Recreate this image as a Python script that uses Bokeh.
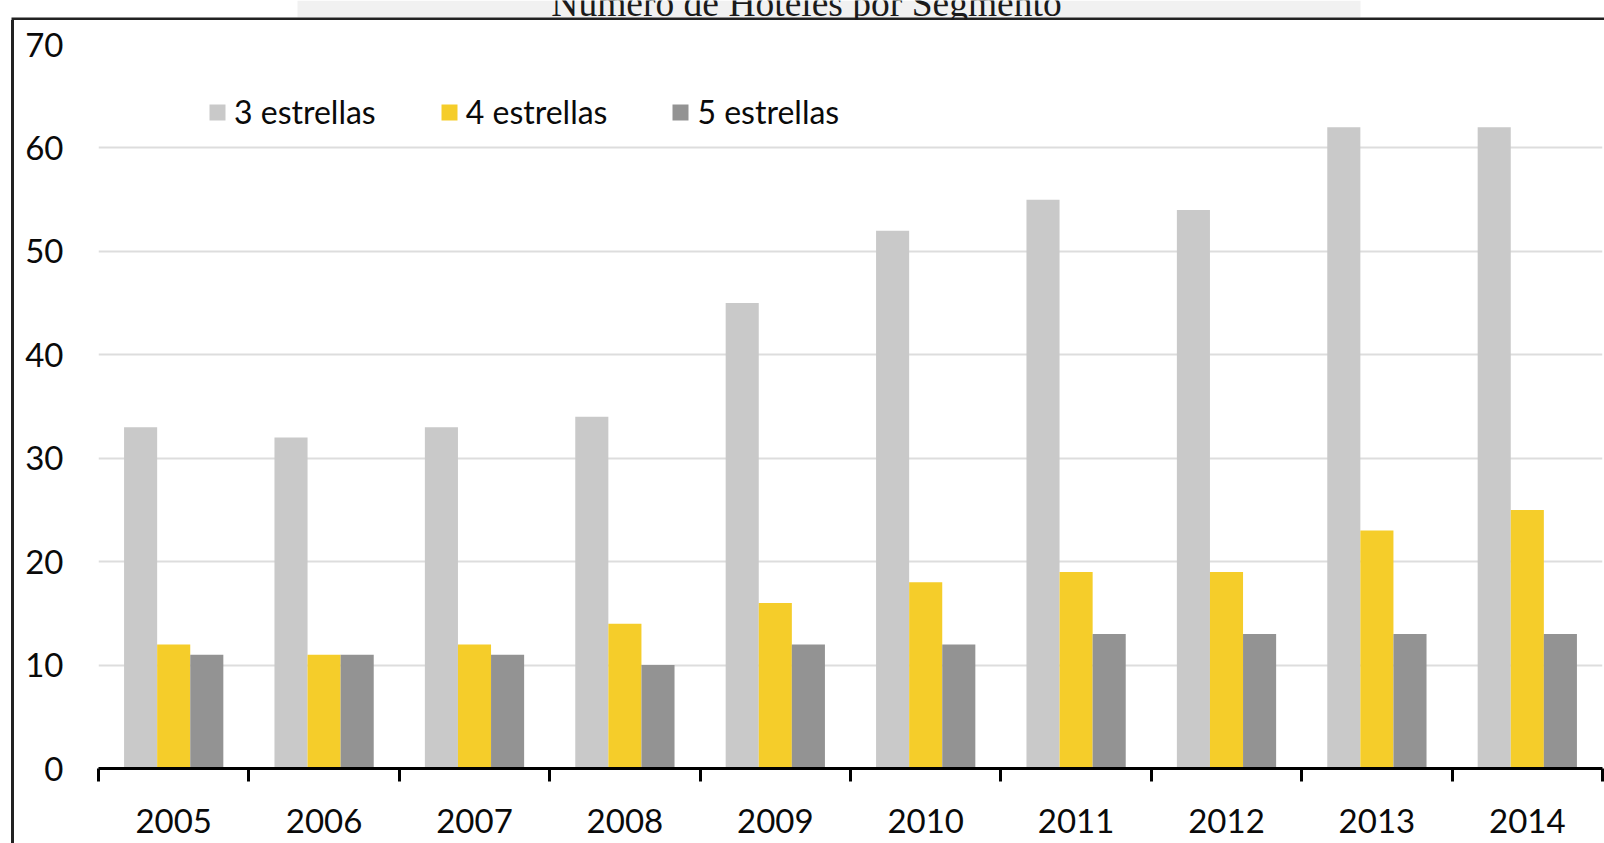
from bokeh.plotting import figure
from bokeh.layouts import column, row
from bokeh.models import (ColumnDataSource, FixedTicker, Range1d, Legend, LegendItem,
                          Label, BoxAnnotation, Div)
from bokeh.transform import dodge
from bokeh.embed import file_html
from bokeh.resources import INLINE

# --- data -------------------------------------------------------------
years = ["2005", "2006", "2007", "2008", "2009", "2010", "2011", "2012", "2013", "2014"]
tres_estrellas = [33, 32, 33, 34, 45, 52, 55, 54, 62, 62]
cuatro_estrellas = [12, 11, 12, 14, 16, 18, 19, 19, 23, 25]
cinco_estrellas = [11, 11, 11, 10, 12, 12, 13, 13, 13, 13]
series_names = ["3 estrellas", "4 estrellas", "5 estrellas"]
y_ticks = [0, 10, 20, 30, 40, 50, 60, 70]
chart_title = "Número de Hoteles por Segmento"

# --- styling ----------------------------------------------------------
colors = ["#c9c9c9", "#f5cd2a", "#939393"]
FONT = "Lato"
BAR_W = 0.22
FRAME_COLOR = "#222222"
PAGE_W, PAGE_H = 1604, 843
TOP_H, LEFT_W = 20, 14

# strip above the chart: title (partly cut at the page top), faint band, top frame line
top = figure(width=PAGE_W, height=TOP_H, x_range=Range1d(0, PAGE_W), y_range=Range1d(TOP_H, 0),
             min_border=0, output_backend="svg", toolbar_location=None,
             x_axis_location=None, y_axis_location=None)
top.grid.visible = False
top.outline_line_color = None
top.add_layout(BoxAnnotation(left=297, right=1360, top=0, bottom=17,
                             fill_color="#f1f1f1", fill_alpha=1, line_color=None, level="underlay"))
top.add_layout(BoxAnnotation(left=11, right=PAGE_W, top=17, bottom=TOP_H,
                             fill_color=FRAME_COLOR, fill_alpha=1, line_color=None))
top.add_layout(Label(x=806, y=3, text=chart_title,
                     text_font="Liberation Serif", text_font_size="37.5px",
                     text_align="center", text_baseline="alphabetic", text_color="#1a1a1a"))

# vertical frame line down the left side
left = Div(text="", width=3, height=PAGE_H - TOP_H, margin=(0, 0, 0, LEFT_W - 3),
           styles={"background-color": FRAME_COLOR})

# --- main chart -------------------------------------------------------
pos = list(range(len(years)))
source = ColumnDataSource(dict(pos=pos, tres=tres_estrellas,
                               cuatro=cuatro_estrellas, cinco=cinco_estrellas))

p = figure(width=PAGE_W - LEFT_W, height=PAGE_H - TOP_H,
           x_range=Range1d(-0.5, len(years) - 0.5),
           y_range=Range1d(0, max(y_ticks)),
           output_backend="svg", toolbar_location=None,
           min_border_left=84, min_border_right=2,
           min_border_top=24, min_border_bottom=75)
p.background_fill_color = "white"
p.border_fill_color = "white"
p.outline_line_color = None

# horizontal grid lines (none at 0 or at the top value)
p.xgrid.grid_line_color = None
p.ygrid.ticker = FixedTicker(ticks=y_ticks[1:-1])
p.ygrid.grid_line_color = "#dddddd"
p.ygrid.grid_line_width = 2

# grouped bars
cols = ["tres", "cuatro", "cinco"]
offsets = [-BAR_W, 0.0, BAR_W]
renderers = []
for col, off, c in zip(cols, offsets, colors):
    r = p.vbar(x=dodge("pos", off), top=col, width=BAR_W, source=source,
               fill_color=c, line_color=None)
    renderers.append(r)

# x axis: years centred under each group, tick marks between groups
xa = p.xaxis[0]
xa.ticker = FixedTicker(ticks=pos, minor_ticks=[i - 0.5 for i in range(len(years) + 1)])
xa.major_label_overrides = {i: y for i, y in zip(pos, years)}
xa.major_tick_out = 0
xa.major_tick_in = 0
xa.minor_tick_out = 13
xa.minor_tick_in = 0
xa.minor_tick_line_color = "black"
xa.minor_tick_line_width = 3
xa.axis_line_color = "black"
xa.axis_line_width = 3
xa.major_label_standoff = 27
xa.major_label_text_font = FONT
xa.major_label_text_font_size = "33px"
xa.major_label_text_color = "#0a0a0a"

# y axis: labels only
ya = p.yaxis[0]
ya.ticker = FixedTicker(ticks=y_ticks)
ya.axis_line_color = None
ya.major_tick_line_color = None
ya.minor_tick_line_color = None
ya.major_tick_out = 0
ya.major_label_standoff = 35
ya.major_label_text_font = FONT
ya.major_label_text_font_size = "33px"
ya.major_label_text_color = "#0a0a0a"

# legend across the top of the plot area
legend = Legend(items=[LegendItem(label=n, renderers=[r]) for n, r in zip(series_names, renderers)],
                orientation="horizontal", location=(109, 637),
                glyph_width=20, glyph_height=20, label_standoff=7, spacing=63,
                padding=0, margin=0, border_line_color=None, background_fill_alpha=0,
                label_text_font=FONT, label_text_font_size="32px", label_text_color="#0a0a0a")
p.add_layout(legend)

layout = column(top, row(left, p, spacing=0), spacing=0)
open("out.html", "w").write(file_html(layout, INLINE))
